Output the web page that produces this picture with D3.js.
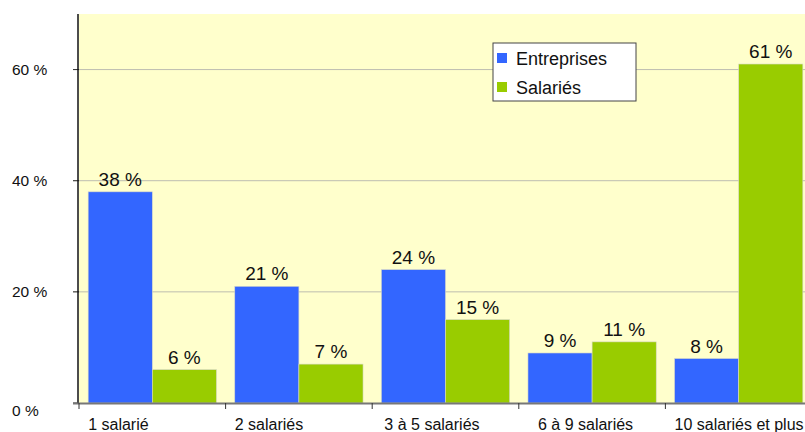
<!DOCTYPE html>
<html>
<head>
<meta charset="utf-8">
<script src="https://cdn.jsdelivr.net/npm/d3@7"></script>
<style>
  body { margin: 0; background: #fff; }
  text { font-family: "Liberation Sans", Arial, sans-serif; fill: #111; }
</style>
</head>
<body>
<div id="chart"></div>
<script>
var categories = ["1 salarié", "2 salariés", "3 à 5 salariés", "6 à 9 salariés", "10 salariés et plus"];
var entreprises = [38, 21, 24, 9, 8];
var salaries = [6, 7, 15, 11, 61];
var seriesNames = ["Entreprises", "Salariés"];
var yTicks = [0, 20, 40, 60];

var pal = { blue: "#3366FF", green: "#99CC00", bg: "#FFFFCC", grid: "#BDBDB0" };

var margin = { top: 14, left: 79 };
var width = 733, height = 389;

var svg = d3.select("#chart").append("svg")
    .attr("width", 805)
    .attr("height", 432);

var g = svg.append("g")
    .attr("transform", "translate(" + margin.left + "," + margin.top + ")");

var x = d3.scaleBand()
    .domain(categories)
    .range([0, width])
    .paddingInner(0.125)
    .paddingOuter(0.0625);

var x1 = d3.scaleBand()
    .domain(seriesNames)
    .range([0, x.bandwidth()]);

var y = d3.scaleLinear()
    .domain([0, 70])
    .range([height, 0]);

// plot background
g.append("rect")
    .attr("width", width)
    .attr("height", height)
    .attr("fill", pal.bg);

// gridlines
g.selectAll(".grid")
    .data(yTicks.filter(function(d){ return d > 0; }))
    .enter().append("line")
    .attr("x1", -6).attr("x2", width)
    .attr("y1", function(d){ return y(d); })
    .attr("y2", function(d){ return y(d); })
    .attr("stroke", pal.grid)
    .attr("stroke-width", 1);

// y tick marks near the axis
g.selectAll(".ytick")
    .data(yTicks)
    .enter().append("line")
    .attr("x1", -6).attr("x2", 0)
    .attr("y1", function(d){ return y(d); })
    .attr("y2", function(d){ return y(d); })
    .attr("stroke", "#333");

g.selectAll(".ylab")
    .data(yTicks)
    .enter().append("text")
    .attr("x", -67)
    .attr("y", function(d){ return y(d) + (d === 0 ? 13 : 5); })
    .attr("font-size", "15.5px")
    .text(function(d){ return d + " %"; });

var data = categories.map(function(c, i){
  return { cat: c, vals: [
    { name: "Entreprises", v: entreprises[i], color: pal.blue },
    { name: "Salariés", v: salaries[i], color: pal.green }
  ]};
});

var groups = g.selectAll(".grp")
    .data(data)
    .enter().append("g")
    .attr("transform", function(d){ return "translate(" + x(d.cat) + ",0)"; });

groups.selectAll("rect")
    .data(function(d){ return d.vals; })
    .enter().append("rect")
    .attr("x", function(d){ return x1(d.name); })
    .attr("y", function(d){ return y(d.v); })
    .attr("width", x1.bandwidth())
    .attr("height", function(d){ return height - y(d.v); })
    .attr("fill", function(d){ return d.color; })
    .attr("stroke", "#d8d8c8")
    .attr("stroke-width", 0.6);

groups.selectAll(".val")
    .data(function(d){ return d.vals; })
    .enter().append("text")
    .attr("x", function(d){ return x1(d.name) + x1.bandwidth() / 2; })
    .attr("y", function(d){ return y(d.v) - 6; })
    .attr("text-anchor", "middle")
    .attr("font-size", "19px")
    .text(function(d){ return d.v + " %"; });

// axes lines
g.append("line")
    .attr("x1", -1).attr("x2", -1)
    .attr("y1", 0).attr("y2", height)
    .attr("stroke", "#111").attr("stroke-width", 1.5);

g.append("line")
    .attr("x1", -6).attr("x2", width)
    .attr("y1", height + 0.5).attr("y2", height + 0.5)
    .attr("stroke", "#777").attr("stroke-width", 2);

var step = x.step();
g.selectAll(".xtick")
    .data(categories)
    .enter().append("line")
    .attr("x1", function(d, i){ return i * step; })
    .attr("x2", function(d, i){ return i * step; })
    .attr("y1", height).attr("y2", height + 6)
    .attr("stroke", "#333");

g.selectAll(".xlab")
    .data(categories)
    .enter().append("text")
    .attr("x", function(d, i){ return x(d) + (i === 3 ? 10 : i === 2 ? 3 : 0); })
    .attr("y", height + 27)
    .attr("font-size", "16px")
    .text(function(d){ return d; });

// legend
var legend = svg.append("g").attr("transform", "translate(493,43)");
legend.append("rect")
    .attr("width", 143).attr("height", 58)
    .attr("fill", "#fff")
    .attr("stroke", "#444");
seriesNames.forEach(function(s, i){
  legend.append("rect")
      .attr("x", 4).attr("y", 10 + i * 29)
      .attr("width", 10).attr("height", 10)
      .attr("fill", i === 0 ? pal.blue : pal.green);
  legend.append("text")
      .attr("x", 23).attr("y", 22 + i * 29)
      .attr("font-size", "18px")
      .text(s);
});
</script>
</body>
</html>
